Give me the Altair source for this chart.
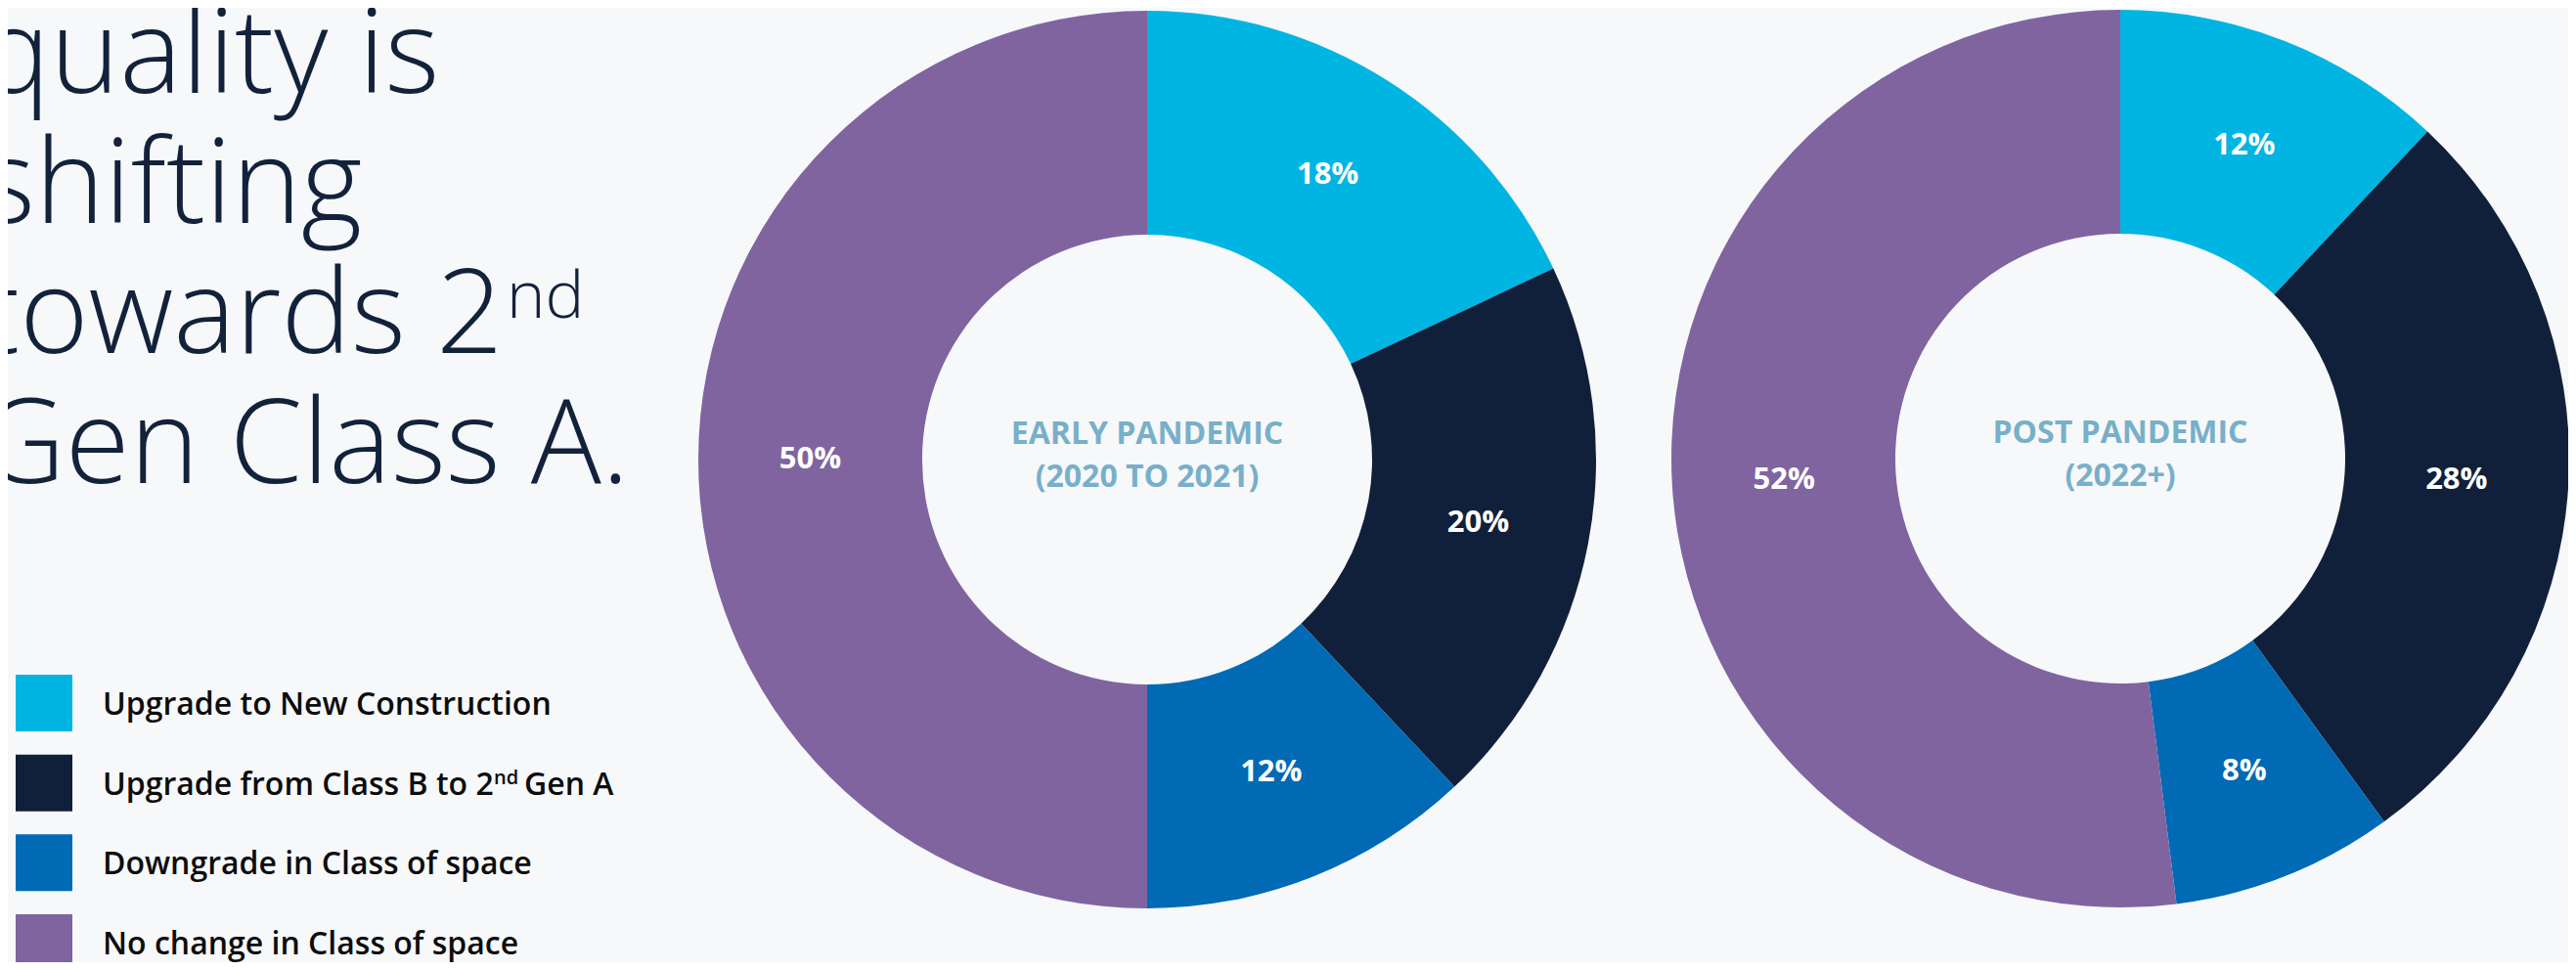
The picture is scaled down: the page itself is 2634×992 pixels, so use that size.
import altair as alt
import pandas as pd

# ---------------- data ----------------
categories = [
    "Upgrade to New Construction",
    "Upgrade from Class B to 2nd Gen A",
    "Downgrade in Class of space",
    "No change in Class of space",
]
periods = ["EARLY PANDEMIC", "POST PANDEMIC"]
period_years = ["(2020 TO 2021)", "(2022+)"]
early_values = [18, 20, 12, 50]
post_values = [12, 28, 8, 52]
colors = ["#00B5E2", "#11203A", "#006AB4", "#8064A0"]
title_lines = ["quality is", "shifting", "towards 2", "Gen Class A."]
title_sup = "nd"

rows = []
for period, vals in zip(periods, [early_values, post_values]):
    for i, (c, v) in enumerate(zip(categories, vals)):
        rows.append({"period": period, "category": c, "value": v, "order": i, "label": f"{v}%"})
df = pd.DataFrame(rows)
center_df = pd.DataFrame({"period": periods, "years": period_years})
legend_df = pd.DataFrame({"category": categories, "order": list(range(len(categories)))})
title_df = pd.DataFrame({"text": ["\n".join(title_lines)]})
sup_df = pd.DataFrame({"text": [title_sup]})

# ---------------- style ----------------
W, H = 2618, 976
BG = "#F6F8FA"
NAVY = "#13223B"
CENTER_COL = "#78AFC9"
FONT = "Open Sans"
color_scale = alt.Scale(domain=categories, range=colors)
centers = [(1165, 462), (2160, 461)]
R_OUT, R_IN = 459, 230


def donut(period, cx, cy):
    base = alt.Chart(df).transform_filter(alt.datum.period == period).encode(
        theta=alt.Theta("value:Q", stack=True),
        order=alt.Order("order:Q"),
    )
    arc = base.mark_arc(x=cx, y=cy, innerRadius=R_IN, outerRadius=R_OUT).encode(
        color=alt.Color("category:N", scale=color_scale, legend=None)
    )
    txt = base.mark_text(
        x=cx, y=cy, radius=(R_IN + R_OUT) / 2, font=FONT, fontWeight="bold",
        fontSize=31, color="white", baseline="middle", align="center",
    ).encode(text="label:N")
    center = (
        alt.Chart(center_df)
        .transform_filter(alt.datum.period == period)
        .transform_calculate(t="datum.period + '\\n' + datum.years")
        .mark_text(
            x=cx, y=cy - 16, font=FONT, fontWeight="bold", fontSize=32,
            color=CENTER_COL, align="center", baseline="alphabetic",
            lineBreak="\n", lineHeight=44,
        )
        .encode(text="t:N")
    )
    return [arc, txt, center]


layers = []
for (p, (cx, cy)) in zip(periods, centers):
    layers += donut(p, cx, cy)

# headline (left side, clipped at the page edge)
title = alt.Chart(title_df).mark_text(
    x=-28, y=87, font=FONT, fontWeight=300, fontSize=120, color=NAVY,
    align="left", baseline="alphabetic", lineBreak="\n", lineHeight=133,
).encode(text="text:N")
title_sup_mark = alt.Chart(sup_df).mark_text(
    x=510, y=317, font=FONT, fontWeight=300, fontSize=67, color=NAVY,
    align="left", baseline="alphabetic",
).encode(text="text:N")

# custom legend
ly = alt.Y("category:N", sort=categories,
           scale=alt.Scale(type="point", range=[711, 956], padding=0), axis=None)
legend_base = alt.Chart(legend_df).encode(y=ly)
leg_sq = legend_base.mark_square(x=37, size=58 * 58, opacity=1, strokeWidth=0).encode(
    color=alt.Color("category:N", scale=color_scale, legend=None)
)
LEG_STYLE = dict(font=FONT, fontWeight=600, fontSize=32, color="#0D0D0D",
                 align="left", baseline="alphabetic")
leg_txt = legend_base.transform_calculate(
    t="indexof(datum.category, '2nd ') >= 0 ? split(datum.category, '2nd ')[0] + '2' : datum.category"
).mark_text(x=97, dy=12, **LEG_STYLE).encode(text="t:N")
leg_sup = legend_base.transform_filter("indexof(datum.category, '2nd ') >= 0").transform_calculate(
    t="'nd'"
).mark_text(x=497, dy=1, **{**LEG_STYLE, "fontSize": 20}).encode(text="t:N")
leg_tail = legend_base.transform_filter("indexof(datum.category, '2nd ') >= 0").transform_calculate(
    t="split(datum.category, '2nd ')[1]"
).mark_text(x=528, dy=12, **LEG_STYLE).encode(text="t:N")

chart = (
    alt.layer(*layers, title, title_sup_mark, leg_sq, leg_txt, leg_sup, leg_tail)
    .resolve_scale(theta="independent")
    .properties(width=W, height=H, autosize=alt.AutoSizeParams(type="none"),
                padding=0, background=BG)
    .configure_view(strokeWidth=0)
)

chart.save("out.html", embed_options={"renderer": "svg", "actions": False})
